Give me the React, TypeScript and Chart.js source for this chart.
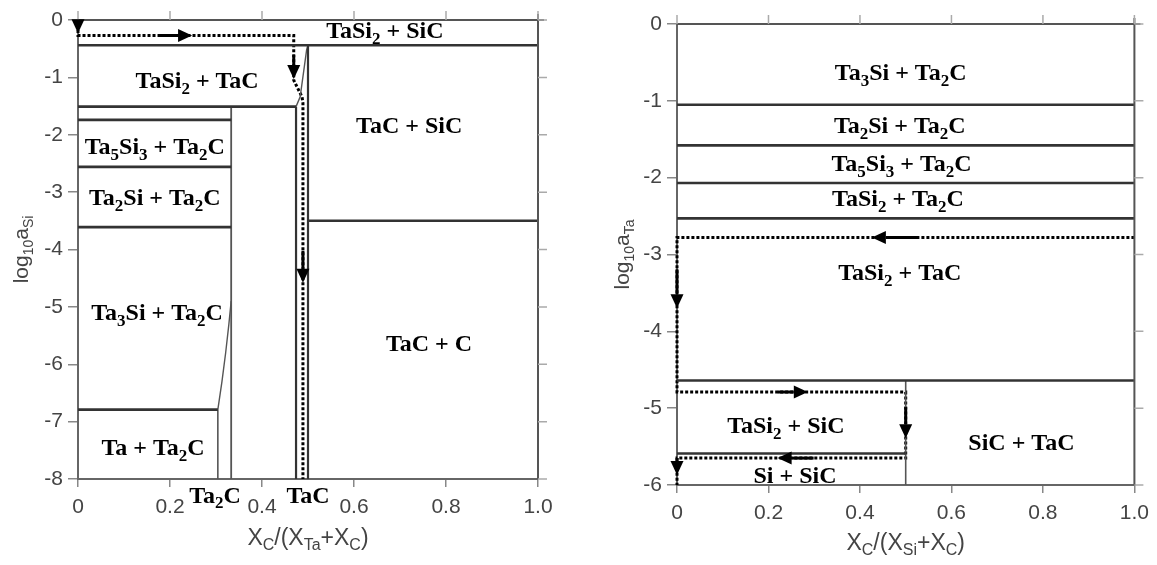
import React, { useEffect, useRef } from "react";
import { Chart, registerables } from "chart.js";

Chart.register(...registerables);

type Pt = [number, number];

// ================= Left diagram: log10 a_Si vs X_C/(X_Ta+X_C) =================
const leftXTicks = [0, 0.2, 0.4, 0.6, 0.8, 1.0];
const leftYTicks = [0, -1, -2, -3, -4, -5, -6, -7, -8];

// heavy phase boundaries
const leftTaSi2SiCEdge: Pt[] = [[0, -0.44], [1, -0.44]];
const leftTaSi2TaCEdge: Pt[] = [[0, -1.51], [0.474, -1.51]];
const leftTaCSiCEdge: Pt[] = [[0.5, -3.5], [1, -3.5]];
const leftTa5Si3Top: Pt[] = [[0, -1.74], [0.333, -1.74]];
const leftTa5Si3Bottom: Pt[] = [[0, -2.56], [0.333, -2.56]];
const leftTa2SiBottom: Pt[] = [[0, -3.61], [0.333, -3.61]];
const leftTaTop: Pt[] = [[0, -6.79], [0.304, -6.79]];
const leftTaCLeft: Pt[] = [[0.474, -1.51], [0.474, -8]];
const leftTaCRight: Pt[] = [[0.5, -0.44], [0.5, -8]];
// thin boundaries
const leftTaCCurve: Pt[] = [[0.474, -1.51], [0.483, -1.34], [0.497, -0.52], [0.5, -0.44]];
const leftTa2CRight: Pt[] = [[0.333, -1.51], [0.333, -8]];
const leftTa2CLeft: Pt[] = [[0.304, -8], [0.304, -6.79]];
const leftTa2CCurve: Pt[] = [[0.304, -6.79], [0.313, -6.3], [0.321, -5.8], [0.328, -5.3], [0.333, -4.9]];
// reaction path (dotted)
const leftPath: Pt[] = [[0, 0], [0, -0.27], [0.469, -0.27], [0.469, -1.05], [0.487, -1.34], [0.489, -1.45], [0.489, -8]];
const leftArrowTips: { x: number; y: number; dir: string; shaft: number }[] = [
  { x: 0, y: -0.23, dir: "down", shaft: 0 },
  { x: 0.248, y: -0.27, dir: "right", shaft: 20 },
  { x: 0.469, y: -1.03, dir: "down", shaft: 10 },
  { x: 0.489, y: -4.58, dir: "down", shaft: 18 },
];
const leftRegionNames = [
  "TaSi_{2} + SiC", "TaSi_{2} + TaC", "TaC + SiC", "Ta_{5}Si_{3} + Ta_{2}C",
  "Ta_{2}Si + Ta_{2}C", "Ta_{3}Si + Ta_{2}C", "Ta + Ta_{2}C", "TaC + C", "Ta_{2}C", "TaC",
];
const leftRegionX = [0.667, 0.259, 0.72, 0.167, 0.167, 0.172, 0.163, 0.763, 0.298, 0.5];
const leftRegionY = [-0.17, -1.05, -1.83, -2.2, -3.08, -5.09, -7.44, -5.63, -8.27, -8.27];

// ================= Right diagram: log10 a_Ta vs X_C/(X_Si+X_C) =================
const rightXTicks = [0, 0.2, 0.4, 0.6, 0.8, 1.0];
const rightYTicks = [0, -1, -2, -3, -4, -5, -6];

const rightTa3SiEdge: Pt[] = [[0, -1.05], [1, -1.05]];
const rightTa2SiEdge: Pt[] = [[0, -1.58], [1, -1.58]];
const rightTa5Si3Edge: Pt[] = [[0, -2.07], [1, -2.07]];
const rightTaSi2Ta2CEdge: Pt[] = [[0, -2.53], [1, -2.53]];
const rightTaSi2TaCEdge: Pt[] = [[0, -4.64], [1, -4.64]];
const rightTaSi2SiCEdge: Pt[] = [[0, -5.59], [0.5, -5.59]];
const rightSiCVertical: Pt[] = [[0.5, -4.64], [0.5, -6]];
const rightPath: Pt[] = [[1, -2.78], [0, -2.78], [0, -4.79], [0.5, -4.79], [0.5, -5.65], [0, -5.65], [0, -6]];
const rightArrowTips: { x: number; y: number; dir: string; shaft: number }[] = [
  { x: 0.426, y: -2.78, dir: "left", shaft: 33 },
  { x: 0, y: -3.7, dir: "down", shaft: 25 },
  { x: 0.286, y: -4.79, dir: "right", shaft: 16 },
  { x: 0.5, y: -5.39, dir: "down", shaft: 17 },
  { x: 0.22, y: -5.65, dir: "left", shaft: 22 },
  { x: 0, y: -5.87, dir: "down", shaft: 3 },
];
const rightRegionNames = [
  "Ta_{3}Si + Ta_{2}C", "Ta_{2}Si + Ta_{2}C", "Ta_{5}Si_{3} + Ta_{2}C", "TaSi_{2} + Ta_{2}C",
  "TaSi_{2} + TaC", "TaSi_{2} + SiC", "Si + SiC", "SiC + TaC",
];
const rightRegionX = [0.489, 0.487, 0.491, 0.483, 0.487, 0.238, 0.258, 0.753];
const rightRegionY = [-0.62, -1.31, -1.81, -2.26, -3.23, -5.22, -5.87, -5.44];

// ================= helpers =================
const SANS = "'Liberation Sans', Arial, sans-serif";
const SERIF = "'Liberation Serif', 'Times New Roman', serif";

function richSegs(s: string) {
  const out: { t: string; sub: boolean }[] = [];
  const re = /_\{([^}]*)\}/g;
  let last = 0;
  let m: RegExpExecArray | null;
  while ((m = re.exec(s))) {
    if (m.index > last) out.push({ t: s.slice(last, m.index), sub: false });
    out.push({ t: m[1], sub: true });
    last = re.lastIndex;
  }
  if (last < s.length) out.push({ t: s.slice(last), sub: false });
  return out;
}

function drawRich(
  ctx: CanvasRenderingContext2D, s: string, cx: number, cy: number,
  size: number, family: string, weight: string, color: string, subRatio: number
) {
  const segs = richSegs(s);
  const subSize = Math.round(size * subRatio);
  const fontOf = (sub: boolean) => `${weight} ${sub ? subSize : size}px ${family}`;
  let w = 0;
  for (const sg of segs) {
    ctx.font = fontOf(sg.sub);
    w += ctx.measureText(sg.t).width;
  }
  let x = cx - w / 2;
  const base = cy + size * 0.34;
  ctx.fillStyle = color;
  ctx.textAlign = "left";
  ctx.textBaseline = "alphabetic";
  for (const sg of segs) {
    ctx.font = fontOf(sg.sub);
    ctx.fillText(sg.t, x, sg.sub ? base + size * 0.24 : base);
    x += ctx.measureText(sg.t).width;
  }
}

type Cfg = {
  xTicks: number[];
  yTicks: number[];
  names: string[];
  nx: number[];
  ny: number[];
  arrows: { x: number; y: number; dir: string; shaft: number }[];
  xTitle: string;
  yTitle: string;
  yTitleOffset: number;
  xTitleOffset: number;
};

function makePlugin(cfg: Cfg) {
  return {
    id: "decor",
    afterDatasetsDraw(chart: any) {
      const ctx: CanvasRenderingContext2D = chart.ctx;
      const { left, right, top, bottom } = chart.chartArea;
      const xs = chart.scales.x;
      const ys = chart.scales.y;
      ctx.save();
      // frame (top & right)
      ctx.strokeStyle = "#555";
      ctx.lineWidth = 2;
      ctx.beginPath();
      ctx.moveTo(left, top);
      ctx.lineTo(right + 6, top);
      ctx.moveTo(right, top - 6);
      ctx.lineTo(right, bottom);
      ctx.stroke();
      // mirror ticks
      ctx.strokeStyle = "#aaa";
      ctx.lineWidth = 1.5;
      ctx.beginPath();
      for (const v of cfg.xTicks) {
        const px = xs.getPixelForValue(v);
        ctx.moveTo(px, top);
        ctx.lineTo(px, top - 9);
      }
      for (const v of cfg.yTicks) {
        const py = ys.getPixelForValue(v);
        ctx.moveTo(right, py);
        ctx.lineTo(right + 9, py);
      }
      ctx.stroke();
      // arrows
      ctx.fillStyle = "#000";
      ctx.strokeStyle = "#000";
      ctx.lineWidth = 3;
      for (const a of cfg.arrows) {
        const px = xs.getPixelForValue(a.x);
        const py = ys.getPixelForValue(a.y);
        const L = 14;
        const H = 6.5;
        let dx = 0, dy = 0;
        if (a.dir === "down") dy = 1;
        else if (a.dir === "up") dy = -1;
        else if (a.dir === "right") dx = 1;
        else dx = -1;
        const bx = px - dx * L;
        const by = py - dy * L;
        if (a.shaft > 0) {
          ctx.beginPath();
          ctx.moveTo(bx, by);
          ctx.lineTo(bx - dx * a.shaft, by - dy * a.shaft);
          ctx.stroke();
        }
        ctx.beginPath();
        ctx.moveTo(px, py);
        ctx.lineTo(bx + dy * H, by + dx * H);
        ctx.lineTo(bx - dy * H, by - dx * H);
        ctx.closePath();
        ctx.fill();
      }
      // region labels
      cfg.names.forEach((n, i) => {
        drawRich(ctx, n, xs.getPixelForValue(cfg.nx[i]), ys.getPixelForValue(cfg.ny[i]), 24, SERIF, "bold", "#000", 0.7);
      });
      // axis titles
      drawRich(ctx, cfg.xTitle, (left + right) / 2, bottom + cfg.xTitleOffset, 23, SANS, "normal", "#444", 0.7);
      ctx.translate(left - cfg.yTitleOffset, (top + bottom) / 2);
      ctx.rotate(-Math.PI / 2);
      drawRich(ctx, cfg.yTitle, 0, 0, 21, SANS, "normal", "#444", 0.68);
      ctx.restore();
    },
  };
}

function seg(points: Pt[], color: string, width: number, dash?: number[]) {
  return {
    data: points.map(([x, y]) => ({ x, y })),
    showLine: true,
    borderColor: color,
    borderWidth: width,
    borderDash: dash || [],
    pointRadius: 0,
    fill: false,
    tension: 0,
    clip: 4,
  };
}

function buildChart(
  canvas: HTMLCanvasElement,
  datasets: any[],
  cfg: Cfg,
  ymin: number,
  pad: { top: number; right: number },
  yWidth: number,
  xHeight: number
) {
  const fmtX = (v: number) => (v === 0 ? "0" : v.toFixed(1));
  return new Chart(canvas, {
    type: "scatter",
    data: { datasets },
    options: {
      animation: false,
      responsive: false,
      maintainAspectRatio: false,
      events: [],
      layout: { padding: { top: pad.top, right: pad.right, left: 0, bottom: 0 } },
      plugins: { legend: { display: false }, tooltip: { enabled: false } },
      scales: {
        x: {
          type: "linear",
          min: 0,
          max: 1,
          afterBuildTicks: (s: any) => {
            s.ticks = cfg.xTicks.map((v) => ({ value: v }));
          },
          afterFit: (s: any) => {
            s.height = xHeight;
          },
          grid: { drawOnChartArea: false, drawTicks: true, tickLength: 8, color: "#888", lineWidth: 1.5 },
          border: { display: true, color: "#666", width: 2 },
          ticks: { padding: 8, color: "#444", font: { family: SANS, size: 21 }, maxRotation: 0, callback: (v: any) => fmtX(Number(v)) },
        },
        y: {
          type: "linear",
          min: ymin,
          max: 0,
          afterBuildTicks: (s: any) => {
            s.ticks = cfg.yTicks.map((v) => ({ value: v }));
          },
          afterFit: (s: any) => {
            s.width = yWidth;
          },
          grid: { drawOnChartArea: false, drawTicks: true, tickLength: 10, color: "#888", lineWidth: 1.5 },
          border: { display: true, color: "#666", width: 2 },
          ticks: { padding: 5, color: "#444", font: { family: SANS, size: 21 }, callback: (v: any) => String(v) },
        },
      },
    },
    plugins: [makePlugin(cfg)],
  } as any);
}

const HEAVY = "#333";
const THIN = "#555";

export default function App() {
  const leftRef = useRef<HTMLCanvasElement>(null);
  const rightRef = useRef<HTMLCanvasElement>(null);

  useEffect(() => {
    const leftSets = [
      seg(leftTaSi2SiCEdge, HEAVY, 2.6),
      seg(leftTaSi2TaCEdge, HEAVY, 2.6),
      seg(leftTaCSiCEdge, HEAVY, 2.6),
      seg(leftTa5Si3Top, HEAVY, 2.6),
      seg(leftTa5Si3Bottom, HEAVY, 2.6),
      seg(leftTa2SiBottom, HEAVY, 2.6),
      seg(leftTaTop, HEAVY, 2.6),
      seg(leftTaCLeft, HEAVY, 2.2),
      seg(leftTaCRight, HEAVY, 2.2),
      seg(leftTaCCurve, THIN, 1.4),
      seg(leftTa2CRight, THIN, 1.8),
      seg(leftTa2CLeft, THIN, 1.6),
      seg(leftTa2CCurve, THIN, 1.4),
      seg(leftPath, "#000", 3, [3, 2]),
    ];
    const rightSets = [
      seg(rightTa3SiEdge, HEAVY, 2.6),
      seg(rightTa2SiEdge, HEAVY, 2.6),
      seg(rightTa5Si3Edge, HEAVY, 2.6),
      seg(rightTaSi2Ta2CEdge, HEAVY, 2.6),
      seg(rightTaSi2TaCEdge, HEAVY, 2.6),
      seg(rightTaSi2SiCEdge, HEAVY, 2.6),
      seg(rightSiCVertical, THIN, 1.6),
      seg(rightPath, "#000", 3, [3, 2]),
    ];
    const lc = buildChart(
      leftRef.current!,
      leftSets,
      {
        xTicks: leftXTicks, yTicks: leftYTicks, names: leftRegionNames, nx: leftRegionX, ny: leftRegionY,
        arrows: leftArrowTips, xTitle: "X_{C}/(X_{Ta}+X_{C})", yTitle: "log_{10}a_{Si}", yTitleOffset: 57, xTitleOffset: 58,
      },
      -8,
      { top: 20, right: 40 },
      78,
      86
    );
    const rc = buildChart(
      rightRef.current!,
      rightSets,
      {
        xTicks: rightXTicks, yTicks: rightYTicks, names: rightRegionNames, nx: rightRegionX, ny: rightRegionY,
        arrows: rightArrowTips, xTitle: "X_{C}/(X_{Si}+X_{C})", yTitle: "log_{10}a_{Ta}", yTitleOffset: 55, xTitleOffset: 57,
      },
      -6,
      { top: 24, right: 22 },
      99,
      80
    );
    return () => {
      lc.destroy();
      rc.destroy();
    };
  }, []);

  return (
    <div style={{ position: "absolute", left: 0, top: 0, width: 1157, height: 565, background: "#fff" }}>
      <canvas ref={leftRef} width={578} height={565} style={{ position: "absolute", left: 0, top: 0, width: 578, height: 565 }} />
      <canvas ref={rightRef} width={579} height={565} style={{ position: "absolute", left: 578, top: 0, width: 579, height: 565 }} />
    </div>
  );
}
